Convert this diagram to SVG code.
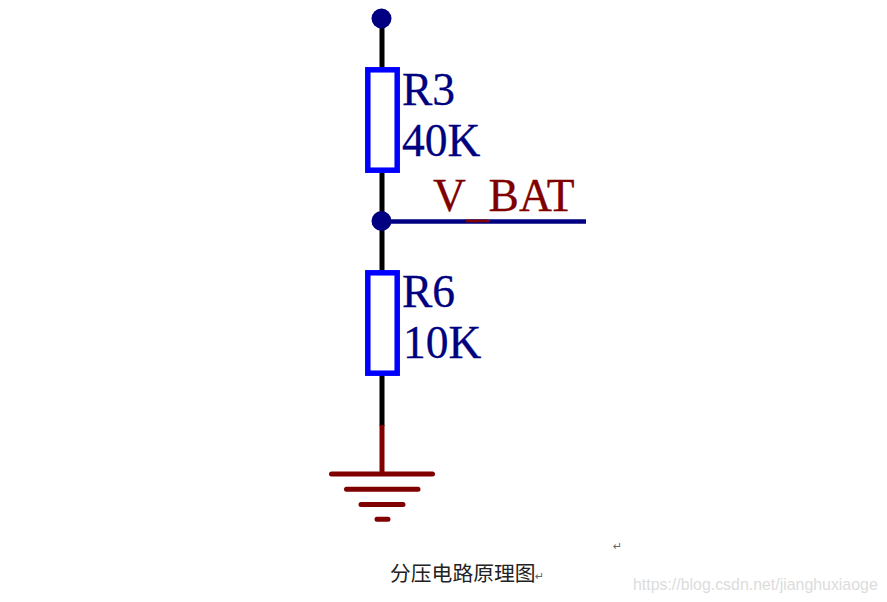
<svg xmlns="http://www.w3.org/2000/svg" width="887" height="602" viewBox="0 0 887 602">
<style>
.serif{font-family:"Liberation Serif","Noto Sans CJK SC",serif;font-size:45.500px}
.val{fill:#000080;stroke:#000080;stroke-width:.3}
.net{fill:#800000;stroke:#800000;stroke-width:.3}
.res{fill:#fff;stroke:#0000ff;stroke-width:5.5}
.dot{fill:#000080}
.wire{stroke:#000;stroke-width:5;fill:none}
.gnd{stroke:#800000;stroke-width:5;fill:none;stroke-linecap:round}
.mark{font-family:"DejaVu Sans",sans-serif;font-size:11px;fill:#666}
</style>
<rect width="887" height="602" fill="#fff"/>
<g id="connectors">
<path class="wire" d="M382 18V69M382 171V272M382 374V426"/>
<path d="M382 221.500H586" stroke="#000080" stroke-width="4.500" fill="none"/>
<path d="M382 425V474" stroke="#800000" stroke-width="5" fill="none"/>
</g>
<g id="V_BAT">
<text class="serif net" x="433" y="210.500">V<tspan dy="5.500">_</tspan><tspan dy="-5.500">BAT</tspan></text>
</g>
<g id="node-top"><circle class="dot" cx="381.500" cy="18.500" r="10"/></g>
<g id="node-junction"><circle class="dot" cx="381.500" cy="221" r="10"/></g>
<g id="R3">
<rect class="res" x="367.800" y="69.800" width="29.400" height="100.400"/>
<text class="serif val" x="402" y="105">R3</text>
<text class="serif val" x="402" y="155.500">40K</text>
</g>
<g id="R6">
<rect class="res" x="367.800" y="272.800" width="29.400" height="100.400"/>
<text class="serif val" x="402" y="307">R6</text>
<text class="serif val" x="403" y="357.500">10K</text>
</g>
<g id="GND">
<path class="gnd" d="M331.500 474H432.500M346.500 489.300H418M361 504.500H403M377 519.300H388"/>
</g>
<g id="caption">
<text x="390" y="581" font-family="Noto Sans CJK SC,sans-serif" font-size="20.800" fill="#222">分压电路原理图</text>
<text class="mark" x="535" y="580">↵</text>
<text class="mark" x="613" y="550">↵</text>
</g>
<text id="watermark" x="633" y="590" font-family="Liberation Sans,sans-serif" font-size="15.900" fill="#dcdcdc">https://blog.csdn.net/jianghuxiaoge</text>
</svg>
